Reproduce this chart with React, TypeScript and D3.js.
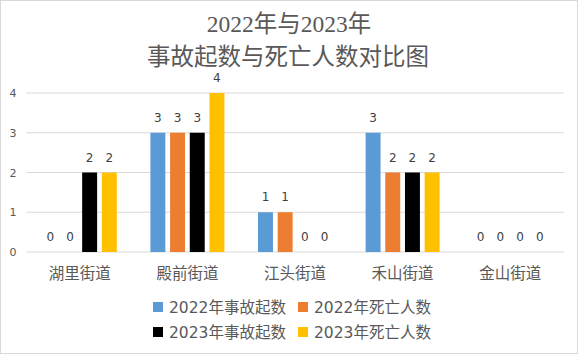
import React from "react";
import * as d3 from "d3";

const categories = ["湖里街道", "殿前街道", "江头街道", "禾山街道", "金山街道"];
const seriesNames = ["2022年事故起数", "2022年死亡人数", "2023年事故起数", "2023年死亡人数"];
const s2022Accidents = [0, 3, 1, 3, 0];
const s2022Deaths = [0, 3, 1, 2, 0];
const s2023Accidents = [2, 3, 0, 2, 0];
const s2023Deaths = [2, 4, 0, 2, 0];
const yTicks = [0, 1, 2, 3, 4];
const colors = ["#5b9bd5", "#ed7d31", "#000000", "#ffc000"];

const W = 580, H = 355;
const left = 26, right = 564, top = 93, bottom = 252;

export default function App() {
  const series = [s2022Accidents, s2022Deaths, s2023Accidents, s2023Deaths];
  const x0 = d3.scaleBand<string>().domain(categories).range([left, right]).paddingInner(0).paddingOuter(0);
  const groupW = 74;
  const x1 = d3.scaleBand<number>().domain([0, 1, 2, 3]).range([0, groupW]).paddingInner(0.24).paddingOuter(0);
  const y = d3.scaleLinear().domain([0, 4]).range([bottom, top]);
  const txt = "#595959";
  return (
    <svg width={W} height={H} style={{ position: "absolute", left: 0, top: 0 }} xmlns="http://www.w3.org/2000/svg">
      <rect x={0} y={0} width={W} height={H} fill="#fff" />
      <rect x={0.5} y={0.5} width={W - 3} height={H - 2} fill="none" stroke="#d9d9d9" />
      <text x={W / 2 - 1} y={32} textAnchor="middle" fontFamily="'Liberation Serif', 'Noto Sans CJK SC', serif" fontSize={23.5} fill={txt}>2022年与2023年</text>
      <text x={W / 2 - 2} y={65} textAnchor="middle" fontFamily="'Liberation Serif', 'Noto Sans CJK SC', serif" fontSize={23.5} fill={txt}>事故起数与死亡人数对比图</text>
      {yTicks.map(t => (
        <g key={t}>
          <line x1={left} x2={right} y1={y(t)} y2={y(t)} stroke="#d9d9d9" strokeWidth={1} />
          <text x={13} y={y(t) + 4} textAnchor="middle" fontFamily="'DejaVu Sans', sans-serif" fontSize={11} fill={txt}>{t}</text>
        </g>
      ))}
      {categories.map((c, ci) => {
        const cx = (x0(c) as number) + x0.bandwidth() / 2;
        const gx = cx - groupW / 2;
        return (
          <g key={c}>
            {series.map((s, si) => {
              const v = s[ci];
              const bx = gx + (x1(si) as number);
              return (
                <g key={si}>
                  {v > 0 && <rect x={bx} y={y(v)} width={x1.bandwidth()} height={y(0) - y(v)} fill={colors[si]} />}
                  <text x={bx + x1.bandwidth() / 2} y={y(v) - 11} textAnchor="middle" fontFamily="'DejaVu Sans', sans-serif" fontSize={12} fill="#404040">{v}</text>
                </g>
              );
            })}
            <text x={cx} y={279} textAnchor="middle" fontFamily="'Noto Sans CJK SC', sans-serif" fontSize={15.5} fill={txt}>{c}</text>
          </g>
        );
      })}
      {seriesNames.map((n, i) => {
        const col = i % 2, row = Math.floor(i / 2);
        const lx = col === 0 ? 153 : 298;
        const ly = 307 + row * 25;
        return (
          <g key={n}>
            <rect x={lx} y={ly - 5} width={10} height={10} fill={colors[i]} />
            <text x={lx + 16} y={ly + 5.5} fontFamily="'DejaVu Sans', 'Noto Sans CJK SC', sans-serif" fontSize={15.5} fill={txt}>{n}</text>
          </g>
        );
      })}
    </svg>
  );
}
